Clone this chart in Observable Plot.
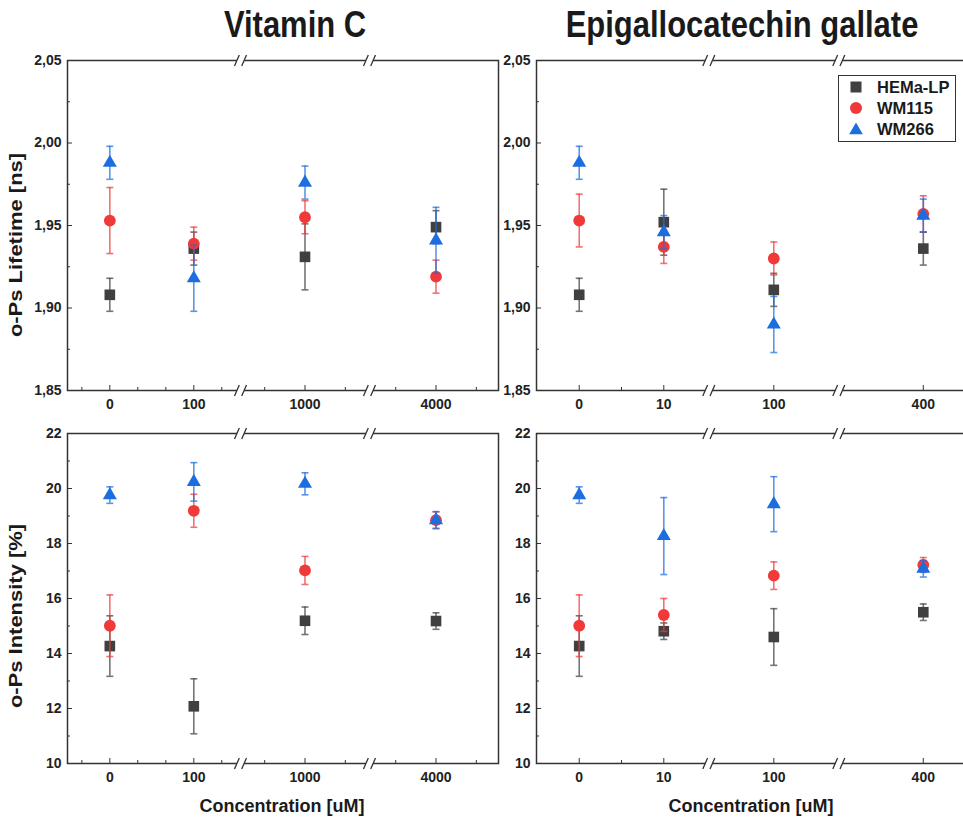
<!DOCTYPE html>
<html><head><meta charset="utf-8">
<script src="https://cdn.jsdelivr.net/npm/d3@7"></script>
<script src="https://cdn.jsdelivr.net/npm/@observablehq/plot@0.6"></script>
<style>
html,body{margin:0;padding:0;background:#fff;overflow:hidden;}
#root{position:relative;width:963px;height:818px;overflow:hidden;font-family:"Liberation Sans",Arial,sans-serif;font-weight:bold;color:#1a1a1a;background:#fff;}
#root svg{max-width:none !important;}
.pl{position:absolute;}
.title{position:absolute;top:7px;font-size:36px;line-height:36px;white-space:nowrap;transform:translateX(-50%) scaleX(0.86);}
.xlab{position:absolute;font-size:18px;line-height:18px;white-space:nowrap;transform:translate(-50%,-50%);}
.ylab{position:absolute;font-size:18px;line-height:18px;white-space:nowrap;transform:translate(-50%,-50%) rotate(-90deg) scaleX(1.22);}
#legend{position:absolute;left:838px;top:75px;width:118px;height:67px;box-sizing:border-box;border:1.5px solid #333;background:#fff;}
.lrow{position:absolute;left:0;height:20px;display:flex;align-items:center;}
.lrow svg{margin-left:10px;margin-right:14px;}
.lrow span{font-size:16.5px;}
</style>
</head><body>
<div id="root"></div>
<script>
// ---------- data ----------
const seriesNames = ["HEMa-LP", "WM115", "WM266"];
const seriesColors = ["#404040", "#f03a3a", "#1c6ee0"];
const seriesSymbols = ["square", "circle", "triangle"];

const concVitC = [0, 100, 1000, 4000];
const concEGCG = [0, 10, 100, 400];

// o-Ps lifetime [ns], Vitamin C
const lifeVitC_HEMa = [1.908, 1.936, 1.931, 1.949];
const lifeVitC_HEMa_err = [0.010, 0.010, 0.020, 0.010];
const lifeVitC_WM115 = [1.953, 1.939, 1.955, 1.919];
const lifeVitC_WM115_err = [0.020, 0.010, 0.010, 0.010];
const lifeVitC_WM266 = [1.988, 1.918, 1.976, 1.941];
const lifeVitC_WM266_err = [0.010, 0.020, 0.010, 0.020];

// o-Ps lifetime [ns], EGCG
const lifeEGCG_HEMa = [1.908, 1.952, 1.911, 1.936];
const lifeEGCG_HEMa_err = [0.010, 0.020, 0.010, 0.010];
const lifeEGCG_WM115 = [1.953, 1.937, 1.930, 1.957];
const lifeEGCG_WM115_err = [0.016, 0.010, 0.010, 0.011];
const lifeEGCG_WM266 = [1.988, 1.946, 1.890, 1.956];
const lifeEGCG_WM266_err = [0.010, 0.010, 0.017, 0.010];

// o-Ps intensity [%], Vitamin C
const intVitC_HEMa = [14.27, 12.08, 15.19, 15.18];
const intVitC_HEMa_err = [1.10, 1.00, 0.50, 0.30];
const intVitC_WM115 = [15.01, 19.19, 17.02, 18.85];
const intVitC_WM115_err = [1.12, 0.60, 0.51, 0.30];
const intVitC_WM266 = [19.76, 20.24, 20.17, 18.85];
const intVitC_WM266_err = [0.30, 0.70, 0.40, 0.31];

// o-Ps intensity [%], EGCG
const intEGCG_HEMa = [14.27, 14.81, 14.60, 15.50];
const intEGCG_HEMa_err = [1.10, 0.30, 1.03, 0.30];
const intEGCG_WM115 = [15.01, 15.40, 16.83, 17.22];
const intEGCG_WM115_err = [1.12, 0.60, 0.50, 0.27];
const intEGCG_WM266 = [19.76, 18.27, 19.43, 17.08];
const intEGCG_WM266_err = [0.30, 1.40, 1.00, 0.30];

// axis ticks
const xMajorVitC = [0, 100, 1000, 4000];
const xMinorVitC = [-33.3, 33.3, 66.7, 133.3, 900, 1100, 3900, 4100];
const xMajorEGCG = [0, 10, 100, 400];
const xMinorEGCG = [5];
const yLifeDomain = [1.85, 2.05];
const yLifeMajor = [1.85, 1.90, 1.95, 2.00, 2.05];
const yLifeMinor = [1.875, 1.925, 1.975, 2.025];
const yIntDomain = [10, 22];
const yIntMajor = [10, 12, 14, 16, 18, 20, 22];
const yIntMinor = [11, 13, 15, 17, 19, 21];

// broken-axis segments: data range and segment length on the axis
const segVitC = [{d: [-50.4, 155.6], len: 173}, {d: [840, 1160], len: 129}, {d: [3835, 4155], len: 129}];
const segEGCG = [{d: [-5.05, 15.32], len: 172.3}, {d: [84, 116], len: 130}, {d: [379.2, 420.8], len: 169}];

// ---------- helpers ----------
function brokenScale(segs) {
  return v => {
    let start = 0;
    for (const s of segs) {
      if (v >= s.d[0] && v <= s.d[1]) return start + (v - s.d[0]) / (s.d[1] - s.d[0]) * s.len;
      start += s.len;
    }
    return NaN;
  };
}
const gapSymbol = {draw(c) { c.moveTo(-3.6, -2.5); c.lineTo(3.6, -2.5); c.lineTo(3.6, 2.5); c.lineTo(-3.6, 2.5); c.closePath(); }};
const slashSymbol = {draw(c) { c.moveTo(-6, 5.5); c.lineTo(-1.2, -5.5); c.moveTo(1.2, 5.5); c.lineTo(6, -5.5); }};
const capSymbol = {draw(c) { c.moveTo(-3.5, 0); c.lineTo(3.5, 0); }};
const symbolR = {square: 6.0, circle: 5.9, triangle: 5.2};
const fmtComma = d => d3.format(".2f")(d).replace(".", ",");

function panel(o) {
  const xf = brokenScale(o.segs);
  const total = d3.sum(o.segs, s => s.len);
  const breaks = [];
  let acc = 0;
  o.segs.slice(0, -1).forEach(s => { acc += s.len; breaks.push(acc); });
  const breakData = breaks.flatMap(b => [{x: b, y: o.yDomain[0]}, {x: b, y: o.yDomain[1]}]);
  const marks = [
    Plot.frame({stroke: "#333", strokeWidth: 1.5}),
    Plot.axisY(o.yMajor, {anchor: "left", tickSize: -5, tickPadding: 11, tickFormat: o.yFmt, stroke: "#333", label: null}),
    Plot.axisY(o.yMinor, {anchor: "left", tickSize: -3, fill: "none", stroke: "#333", label: null}),
    Plot.axisX(o.xMajor.map(xf), {anchor: "bottom", tickSize: -5, tickPadding: 14, tickFormat: (d, i) => String(o.xMajor[i]), stroke: "#333", label: null}),
    Plot.axisX(o.xMinor.map(xf), {anchor: "bottom", tickSize: -3, fill: "none", stroke: "#333", label: null}),
    Plot.dot(breakData, {x: "x", y: "y", symbol: gapSymbol, r: 5, fill: "white", stroke: "none"}),
    Plot.dot(breakData, {x: "x", y: "y", symbol: slashSymbol, r: 5, fill: "none", stroke: "#333", strokeWidth: 1.3})
  ];
  o.series.forEach((s, k) => {
    const rows = o.conc.map((c, i) => ({x: xf(c), y: s.v[i], e: s.e[i]}));
    const col = seriesColors[k];
    marks.push(
      Plot.ruleX(rows, {x: "x", y1: d => d.y - d.e, y2: d => d.y + d.e, stroke: col, strokeOpacity: 0.72, strokeWidth: 1.6}),
      Plot.dot(rows, {x: "x", y: d => d.y + d.e, symbol: capSymbol, r: 3, fill: "none", stroke: col, strokeOpacity: 0.72, strokeWidth: 1.6}),
      Plot.dot(rows, {x: "x", y: d => d.y - d.e, symbol: capSymbol, r: 3, fill: "none", stroke: col, strokeOpacity: 0.72, strokeWidth: 1.6}),
      Plot.dot(rows, {x: "x", y: "y", symbol: seriesSymbols[k], r: symbolR[seriesSymbols[k]], fill: col, stroke: "none"})
    );
  });
  const svg = Plot.plot({
    width: o.marginLeft + total + o.marginRight,
    height: o.marginTop + 330 + o.marginBottom,
    marginLeft: o.marginLeft, marginRight: o.marginRight,
    marginTop: o.marginTop, marginBottom: o.marginBottom,
    x: {type: "linear", domain: [0, total], axis: null},
    y: {type: "linear", domain: o.yDomain, axis: null},
    style: {fontFamily: "'Liberation Sans', Arial, sans-serif", fontSize: "14px", fontWeight: "bold", color: "#222", background: "transparent"},
    marks
  });
  const wrap = document.createElement("div");
  wrap.className = "pl";
  wrap.style.left = o.left + "px";
  wrap.style.top = o.top + "px";
  wrap.appendChild(svg);
  document.getElementById("root").appendChild(wrap);
}

const root = document.getElementById("root");
function addDiv(cls, text, left, top) {
  const d = document.createElement("div");
  d.className = cls; d.textContent = text;
  d.style.left = left + "px"; d.style.top = top + "px";
  root.appendChild(d);
  return d;
}

panel({left: 0, top: 45, marginLeft: 67, marginRight: 2, marginTop: 15, marginBottom: 28,
  segs: segVitC, conc: concVitC, xMajor: xMajorVitC, xMinor: xMinorVitC,
  yDomain: yLifeDomain, yMajor: yLifeMajor, yMinor: yLifeMinor, yFmt: fmtComma,
  series: [{v: lifeVitC_HEMa, e: lifeVitC_HEMa_err}, {v: lifeVitC_WM115, e: lifeVitC_WM115_err}, {v: lifeVitC_WM266, e: lifeVitC_WM266_err}]});
panel({left: 500, top: 45, marginLeft: 36, marginRight: 0, marginTop: 15, marginBottom: 28,
  segs: segEGCG, conc: concEGCG, xMajor: xMajorEGCG, xMinor: xMinorEGCG,
  yDomain: yLifeDomain, yMajor: yLifeMajor, yMinor: yLifeMinor, yFmt: fmtComma,
  series: [{v: lifeEGCG_HEMa, e: lifeEGCG_HEMa_err}, {v: lifeEGCG_WM115, e: lifeEGCG_WM115_err}, {v: lifeEGCG_WM266, e: lifeEGCG_WM266_err}]});
panel({left: 0, top: 418, marginLeft: 67, marginRight: 2, marginTop: 15, marginBottom: 30,
  segs: segVitC, conc: concVitC, xMajor: xMajorVitC, xMinor: xMinorVitC,
  yDomain: yIntDomain, yMajor: yIntMajor, yMinor: yIntMinor, yFmt: d => String(d),
  series: [{v: intVitC_HEMa, e: intVitC_HEMa_err}, {v: intVitC_WM115, e: intVitC_WM115_err}, {v: intVitC_WM266, e: intVitC_WM266_err}]});
panel({left: 500, top: 418, marginLeft: 36, marginRight: 0, marginTop: 15, marginBottom: 30,
  segs: segEGCG, conc: concEGCG, xMajor: xMajorEGCG, xMinor: xMinorEGCG,
  yDomain: yIntDomain, yMajor: yIntMajor, yMinor: yIntMinor, yFmt: d => String(d),
  series: [{v: intEGCG_HEMa, e: intEGCG_HEMa_err}, {v: intEGCG_WM115, e: intEGCG_WM115_err}, {v: intEGCG_WM266, e: intEGCG_WM266_err}]});

addDiv("title", "Vitamin C", 295, 7);
addDiv("title", "Epigallocatechin gallate", 742, 7);
addDiv("xlab", "Concentration [uM]", 282, 806);
addDiv("xlab", "Concentration [uM]", 751, 806);
addDiv("ylab", "o-Ps Lifetime [ns]", 16, 245);
addDiv("ylab", "o-Ps Intensity [%]", 16, 616);

// legend
const legend = document.createElement("div");
legend.id = "legend";
const markerSvg = [
  c => `<rect x="1.5" y="1.5" width="11" height="11" fill="${c}"/>`,
  c => `<circle cx="7" cy="7" r="6" fill="${c}"/>`,
  c => `<path d="M7,0.5 L13.8,12.3 L0.2,12.3 Z" fill="${c}"/>`
];
seriesNames.forEach((n, k) => {
  const row = document.createElement("div");
  row.className = "lrow";
  row.style.top = (1 + k * 21) + "px";
  row.innerHTML = `<svg width="14" height="14" viewBox="0 0 14 14">${markerSvg[k](seriesColors[k])}</svg><span>${n}</span>`;
  legend.appendChild(row);
});
root.appendChild(legend);
</script>
</body></html>
